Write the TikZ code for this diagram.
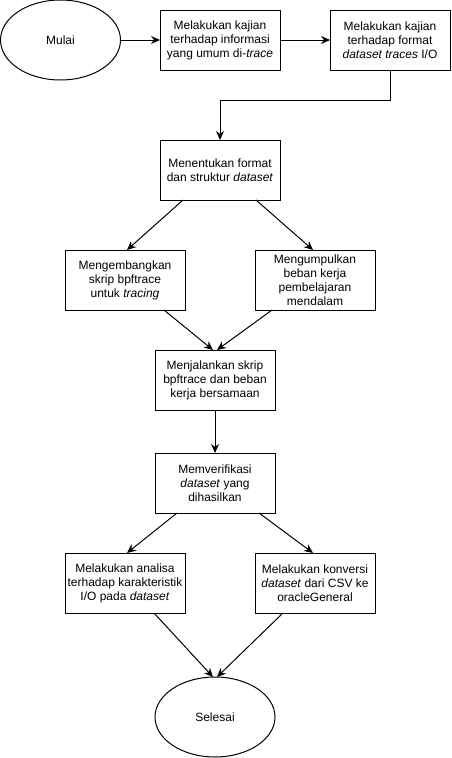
\documentclass[tikz,border=0pt]{standalone}
\usepackage{fontspec}
\setmainfont{Liberation Sans}
\usetikzlibrary{shapes.geometric}
\usetikzlibrary{arrows.meta}
\tikzset{
	% Two node styles for the flow chart: process box and terminal
	proc node/.style={rectangle,draw,line width=1pt,outer sep=0,inner sep=1,minimum width=120,minimum height=60,align=center},
	term node/.style={ellipse,draw,line width=1pt,outer sep=0,inner sep=1,minimum width=120,minimum height=80,align=center},
	flow/.style={line width=1pt,-{Stealth[length=9pt,width=8pt,inset=3pt]}}
}

\begin{document}
\begin{tikzpicture}[x=1pt,y=-1pt,font=\fontsize{12}{14}\selectfont]
				% macro for italic (foreign) words
				\newcommand{\asing}[1]{\textit{#1}}
				\useasboundingbox (0,0) rectangle (451,758);
				
				\node(mulai)[term node] at (60.5,40){Mulai};
				\node(1)[proc node] at (220,40){Melakukan kajian\\terhadap informasi\\yang umum di-\asing{trace}};
				\node(2)[proc node] at (390,40){Melakukan kajian\\terhadap format\\\asing{dataset traces} I/O};
				\node(3)[proc node] at (220,170){Menentukan format\\dan struktur \asing{dataset}};
				\node(4-1)[proc node] at (125,280){Mengembangkan\\skrip bpftrace\\untuk \asing{tracing}};
				\node(4-2)[proc node] at (315,280){Mengumpulkan\\beban kerja\\pembelajaran\\mendalam};
				\node(5)[proc node] at (215,380){Menjalankan skrip\\bpftrace dan beban\\kerja bersamaan};
				\node(6)[proc node] at (215,483){Memverifikasi\\\asing{dataset} yang\\dihasilkan};
				\node(7-1)[proc node] at (125,583){Melakukan analisa\\terhadap karakteristik\\I/O pada \asing{dataset}};
				\node(7-2)[proc node] at (315,583){Melakukan konversi\\\asing{dataset} dari CSV ke\\oracleGeneral};
				\node(selesai)[term node] at (215,717){Selesai};
				
				% connectors, with the exit points shifted as in the layout
				\draw[flow] (mulai) -- (1);
				\draw[flow] (1) -- (2);
				\draw[flow] (2.south) -- ++(0,30) -| (3.north);
				\draw[flow] ([xshift=-37pt]3.south) -- ([xshift=2pt]4-1.north);
				\draw[flow] ([xshift=36pt]3.south) -- ([xshift=-2pt]4-2.north);
				\draw[flow] ([xshift=39pt]4-1.south) -- ([xshift=-2pt]5.north);
				\draw[flow] ([xshift=-43pt]4-2.south) -- ([xshift=2pt]5.north);
				\draw[flow] (5) -- (6);
				\draw[flow] ([xshift=-38pt]6.south) -- ([xshift=2pt]7-1.north);
				\draw[flow] ([xshift=44pt]6.south) -- ([xshift=-2pt]7-2.north);
				\draw[flow] ([xshift=29pt]7-1.south) -- ([xshift=-2pt]selesai.north);
				\draw[flow] ([xshift=-32pt]7-2.south) -- ([xshift=2pt]selesai.north);
			\end{tikzpicture}
\end{document}
